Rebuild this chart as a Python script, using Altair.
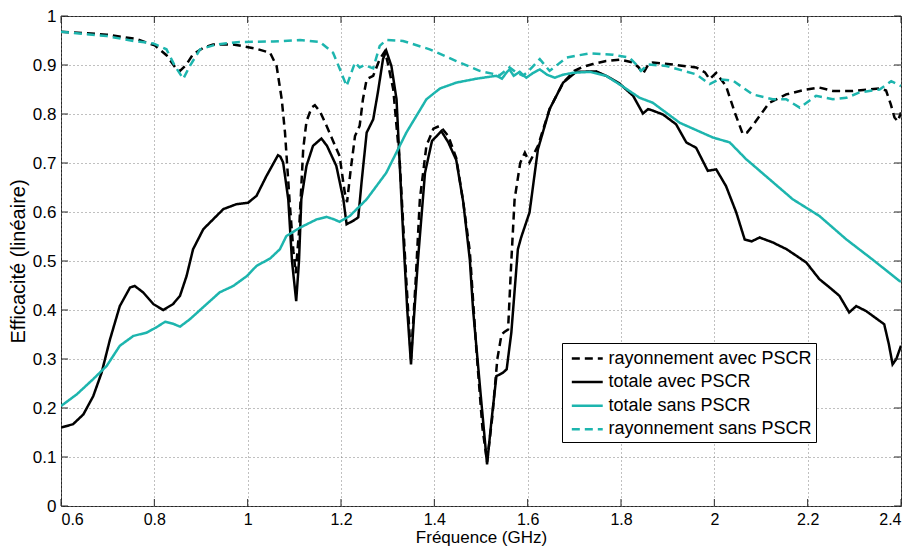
import altair as alt
import pandas as pd

# ---- data ----
series_names = ["rayonnement avec PSCR", "totale avec PSCR", "totale sans PSCR", "rayonnement sans PSCR"]

f_rav = [0.600, 0.650, 0.698, 0.762, 0.801, 0.826, 0.845, 0.855, 0.868, 0.883, 0.905, 0.926, 0.969, 1.019, 1.048, 1.062,
         1.073, 1.080, 1.090, 1.098, 1.103, 1.110, 1.119, 1.126, 1.137, 1.144, 1.155, 1.169, 1.183, 1.197, 1.208, 1.213,
         1.220, 1.230, 1.240, 1.247, 1.255, 1.269, 1.283, 1.294, 1.300, 1.312, 1.326, 1.340, 1.350, 1.360, 1.369, 1.383,
         1.398, 1.412, 1.430, 1.447, 1.462, 1.476, 1.490, 1.503, 1.513, 1.524, 1.535, 1.544, 1.550, 1.558, 1.565, 1.572,
         1.584, 1.594, 1.604, 1.622, 1.647, 1.676, 1.700, 1.718, 1.740, 1.768, 1.797, 1.826, 1.838, 1.847, 1.858, 1.868,
         1.911, 1.961, 1.980, 1.990, 2.004, 2.025, 2.045, 2.061, 2.070, 2.082, 2.100, 2.118, 2.154, 2.197, 2.225, 2.254,
         2.297, 2.354, 2.368, 2.378, 2.386, 2.393, 2.400]
e_rav = [0.968, 0.965, 0.962, 0.953, 0.940, 0.920, 0.895, 0.888, 0.900, 0.922, 0.935, 0.942, 0.942, 0.933, 0.925, 0.898,
         0.830, 0.762, 0.620, 0.520, 0.475, 0.560, 0.728, 0.785, 0.813, 0.818, 0.805, 0.776, 0.745, 0.714, 0.640, 0.620,
         0.680, 0.755, 0.776, 0.830, 0.871, 0.878, 0.912, 0.928, 0.905, 0.850, 0.700, 0.460, 0.300, 0.460, 0.626, 0.735,
         0.770, 0.776, 0.755, 0.710, 0.620, 0.520, 0.320, 0.160, 0.090, 0.180, 0.300, 0.350, 0.355, 0.360, 0.500, 0.626,
         0.700, 0.721, 0.701, 0.735, 0.810, 0.864, 0.888, 0.896, 0.902, 0.908, 0.911, 0.905, 0.895, 0.882, 0.900, 0.905,
         0.901, 0.895, 0.885, 0.871, 0.884, 0.857, 0.800, 0.759, 0.762, 0.776, 0.800, 0.823, 0.840, 0.850, 0.854, 0.847,
         0.847, 0.852, 0.848, 0.820, 0.793, 0.785, 0.803]

f_tav = [0.600, 0.626, 0.648, 0.669, 0.687, 0.705, 0.726, 0.748, 0.758, 0.776, 0.798, 0.819, 0.840, 0.855, 0.869, 0.883,
         0.905, 0.926, 0.948, 0.976, 1.001, 1.019, 1.040, 1.065, 1.070, 1.076, 1.087, 1.095, 1.104, 1.110, 1.115, 1.126,
         1.140, 1.158, 1.170, 1.190, 1.205, 1.212, 1.226, 1.237, 1.244, 1.255, 1.269, 1.279, 1.290, 1.297, 1.308, 1.319,
         1.326, 1.333, 1.342, 1.350, 1.356, 1.365, 1.380, 1.395, 1.415, 1.430, 1.447, 1.462, 1.476, 1.483, 1.500, 1.513,
         1.522, 1.533, 1.547, 1.555, 1.565, 1.579, 1.586, 1.604, 1.622, 1.647, 1.676, 1.704, 1.747, 1.772, 1.797, 1.826,
         1.847, 1.858, 1.865, 1.890, 1.918, 1.940, 1.961, 1.986, 2.004, 2.025, 2.047, 2.065, 2.080, 2.097, 2.125, 2.155,
         2.197, 2.225, 2.247, 2.268, 2.289, 2.304, 2.325, 2.364, 2.374, 2.382, 2.390, 2.400]
e_tav = [0.160, 0.167, 0.187, 0.224, 0.272, 0.340, 0.408, 0.446, 0.449, 0.436, 0.412, 0.400, 0.412, 0.429, 0.469, 0.524,
         0.565, 0.585, 0.606, 0.616, 0.619, 0.633, 0.673, 0.716, 0.713, 0.701, 0.626, 0.500, 0.418, 0.500, 0.626, 0.694,
         0.735, 0.750, 0.735, 0.694, 0.626, 0.575, 0.582, 0.589, 0.660, 0.762, 0.789, 0.844, 0.912, 0.929, 0.898, 0.830,
         0.694, 0.558, 0.400, 0.289, 0.380, 0.503, 0.680, 0.745, 0.765, 0.742, 0.706, 0.620, 0.503, 0.401, 0.220, 0.085,
         0.170, 0.265, 0.272, 0.279, 0.354, 0.524, 0.548, 0.599, 0.728, 0.810, 0.864, 0.886, 0.887, 0.876, 0.862, 0.837,
         0.801, 0.810, 0.808, 0.799, 0.779, 0.742, 0.731, 0.684, 0.687, 0.653, 0.599, 0.544, 0.540, 0.548, 0.538, 0.524,
         0.497, 0.463, 0.446, 0.429, 0.395, 0.408, 0.398, 0.371, 0.330, 0.289, 0.300, 0.327]

f_tsa = [0.600, 0.634, 0.669, 0.698, 0.726, 0.755, 0.784, 0.805, 0.823, 0.840, 0.855, 0.876, 0.912, 0.940, 0.969, 0.998,
         1.019, 1.048, 1.069, 1.083, 1.112, 1.148, 1.169, 1.185, 1.197, 1.219, 1.255, 1.297, 1.340, 1.383, 1.412, 1.447,
         1.490, 1.533, 1.545, 1.555, 1.561, 1.570, 1.583, 1.597, 1.612, 1.626, 1.642, 1.658, 1.675, 1.697, 1.733, 1.768,
         1.804, 1.840, 1.868, 1.926, 1.997, 2.033, 2.068, 2.118, 2.168, 2.225, 2.283, 2.339, 2.397, 2.400]
e_tsa = [0.204, 0.228, 0.259, 0.286, 0.327, 0.347, 0.354, 0.365, 0.376, 0.372, 0.366, 0.381, 0.412, 0.436, 0.449, 0.469,
         0.490, 0.505, 0.524, 0.551, 0.568, 0.585, 0.590, 0.585, 0.580, 0.592, 0.626, 0.680, 0.762, 0.830, 0.852, 0.864,
         0.872, 0.878, 0.872, 0.885, 0.891, 0.878, 0.886, 0.874, 0.884, 0.891, 0.880, 0.874, 0.880, 0.884, 0.886, 0.878,
         0.856, 0.833, 0.823, 0.782, 0.752, 0.742, 0.708, 0.667, 0.626, 0.592, 0.544, 0.503, 0.459, 0.458]

f_rsa = [0.600, 0.698, 0.755, 0.798, 0.826, 0.844, 0.862, 0.876, 0.898, 0.933, 0.983, 1.055, 1.112, 1.155, 1.183, 1.197,
         1.212, 1.222, 1.230, 1.240, 1.250, 1.269, 1.283, 1.297, 1.333, 1.390, 1.447, 1.497, 1.540, 1.561, 1.575, 1.590,
         1.600, 1.626, 1.647, 1.683, 1.733, 1.783, 1.818, 1.836, 1.843, 1.858, 1.897, 1.961, 1.990, 2.011, 2.040, 2.082,
         2.125, 2.154, 2.183, 2.218, 2.254, 2.283, 2.311, 2.354, 2.379, 2.400]
e_rsa = [0.968, 0.959, 0.949, 0.944, 0.932, 0.898, 0.872, 0.898, 0.932, 0.942, 0.947, 0.948, 0.951, 0.947, 0.925, 0.893,
         0.857, 0.884, 0.905, 0.895, 0.900, 0.893, 0.939, 0.951, 0.949, 0.932, 0.908, 0.888, 0.879, 0.895, 0.885, 0.878,
         0.886, 0.912, 0.888, 0.915, 0.924, 0.921, 0.915, 0.898, 0.888, 0.901, 0.898, 0.881, 0.861, 0.871, 0.868, 0.840,
         0.830, 0.830, 0.813, 0.837, 0.830, 0.833, 0.844, 0.850, 0.867, 0.857]

x_ticks = [0.6, 0.8, 1.0, 1.2, 1.4, 1.6, 1.8, 2.0, 2.2, 2.4]
y_ticks = [0, 0.1, 0.2, 0.3, 0.4, 0.5, 0.6, 0.7, 0.8, 0.9, 1.0]

# ---- build table ----
rows = []
for name, fs, es in zip(series_names, [f_rav, f_tav, f_tsa, f_rsa], [e_rav, e_tav, e_tsa, e_rsa]):
    for f, e in zip(fs, es):
        rows.append({"serie": name, "f": f, "e": e})
df = pd.DataFrame(rows)

FONT = "Liberation Sans"
TEAL = "#1db5ae"
W, H = 840, 490

x_scale = alt.Scale(domain=[0.6, 2.4], nice=False, zero=False)
y_scale = alt.Scale(domain=[0, 1], nice=False)
color_scale = alt.Scale(domain=series_names, range=["#000000", "#000000", TEAL, TEAL])
dash_scale = alt.Scale(domain=series_names, range=[[8, 5], [1, 0], [1, 0], [8, 5]])

legend = alt.Legend(title=None, orient="none", legendX=501, legendY=327, strokeColor="#000000",
                    fillColor="#ffffff", padding=3.5, rowPadding=2.6,
                    symbolType="M-0.55,0H2.44", symbolSize=428, symbolStrokeWidth=2.5,
                    labelFontSize=18, labelFont=FONT, labelColor="#000000", labelLimit=400,
                    labelOffset=19, symbolOpacity=1)

layers = []
for i, name in enumerate(series_names):
    layers.append(
        alt.Chart(df).transform_filter(alt.datum.serie == name).mark_line(strokeWidth=2.5, clip=True).encode(
            x=alt.X("f:Q", scale=x_scale,
                    axis=alt.Axis(values=x_ticks, format="~g", title="Fréquence (GHz)", grid=True, ticks=False,
                                  labelPadding=5, labelFontSize=16, titleY=36.5, titleBaseline="alphabetic")),
            y=alt.Y("e:Q", scale=y_scale,
                    axis=alt.Axis(values=y_ticks, format="~g", title="Efficacité (linéaire)", grid=True,
                                  ticks=False, labelPadding=5, titlePadding=4)),
            color=alt.Color("serie:N", scale=color_scale, legend=legend, sort=series_names),
            strokeDash=alt.StrokeDash("serie:N", scale=dash_scale, legend=legend, sort=series_names),
        )
    )

xt = pd.DataFrame({"t": x_ticks})
yt = pd.DataFrame({"t": y_ticks})
tick_col = "#262626"
xt_bottom = alt.Chart(xt).mark_rule(color=tick_col, strokeWidth=1).encode(
    x=alt.X("t:Q", scale=x_scale), y=alt.value(H), y2=alt.value(H - 7))
xt_top = alt.Chart(xt).mark_rule(color=tick_col, strokeWidth=1).encode(
    x=alt.X("t:Q", scale=x_scale), y=alt.value(0), y2=alt.value(7))
yt_left = alt.Chart(yt).mark_rule(color=tick_col, strokeWidth=1).encode(
    y=alt.Y("t:Q", scale=y_scale), x=alt.value(0), x2=alt.value(7))
yt_right = alt.Chart(yt).mark_rule(color=tick_col, strokeWidth=1).encode(
    y=alt.Y("t:Q", scale=y_scale), x=alt.value(W), x2=alt.value(W - 7))

chart = alt.layer(*layers, xt_bottom, xt_top, yt_left, yt_right).properties(
    width=W, height=H,
    autosize=alt.AutoSizeParams(type="none"),
    padding={"left": 53, "top": 8, "right": 6, "bottom": 40},
    background="#ffffff",
).configure_view(
    stroke="#262626", strokeWidth=1
).configure_axis(
    labelFont=FONT, titleFont=FONT, labelFontSize=17, labelColor="#000000", titleColor="#000000",
    titleFontWeight="normal", domain=False,
    gridColor="#808080", gridDash=[1, 3], gridWidth=1, gridOpacity=1,
).configure_axisX(
    titleFontSize=17
).configure_axisY(
    titleFontSize=20
)

chart.save("out.html", embed_options={"renderer": "svg", "actions": False})
